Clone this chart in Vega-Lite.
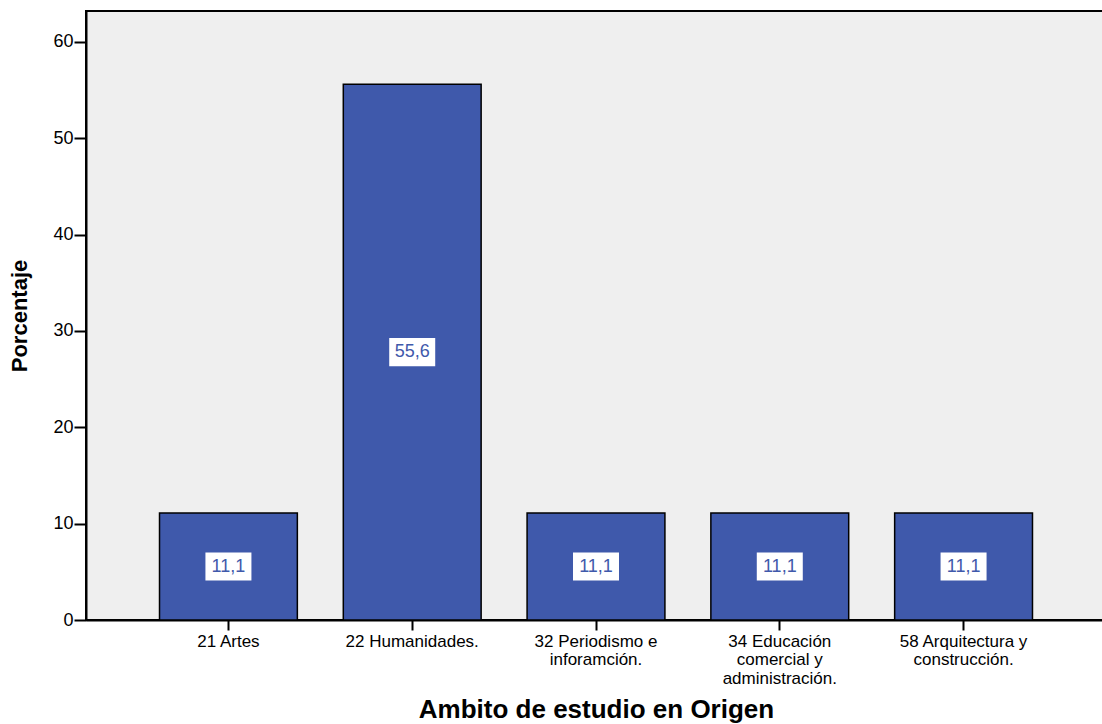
{
  "$schema": "https://vega.github.io/schema/vega-lite/v6.json",
  "width": 1020,
  "height": 609,
  "autosize": {"type": "none"},
  "padding": {"left": 86, "top": 11, "right": 0, "bottom": 104},
  "background": "white",
  "config": {
    "font": "Liberation Sans",
    "view": {"fill": "#efefef", "stroke": "black", "strokeWidth": 2},
    "locale": {"number": {"decimal": ",", "thousands": ".", "grouping": [3], "currency": ["", " €"]}},
    "axis": {"grid": false, "domainColor": "black", "domainWidth": 2, "tickColor": "black", "tickWidth": 2, "labelColor": "black", "titleColor": "black", "labelFont": "Liberation Sans", "titleFont": "Liberation Sans"}
  },
  "data": {
    "values": [
      {"ambito": "21 Artes", "pct": 11.1},
      {"ambito": "22 Humanidades.", "pct": 55.6},
      {"ambito": "32 Periodismo e|inforamción.", "pct": 11.1},
      {"ambito": "34 Educación|comercial y|administración.", "pct": 11.1},
      {"ambito": "58 Arquitectura y|construcción.", "pct": 11.1}
    ]
  },
  "transform": [{"calculate": "datum.pct / 2", "as": "mid"}],
  "encoding": {
    "x": {
      "field": "ambito",
      "type": "nominal",
      "sort": null,
      "scale": {"paddingInner": 0.25, "paddingOuter": 0.4},
      "axis": {
        "title": "Ambito de estudio en Origen",
        "titleFontSize": 26,
        "titleFontWeight": "bold",
        "titlePadding": 10,
        "labelAngle": 0,
        "labelFontSize": 17,
        "labelPadding": 3,
        "labelLineHeight": 18.5,
        "tickSize": 10,
        "labelExpr": "split(datum.label, '|')"
      }
    }
  },
  "layer": [
    {
      "mark": {"type": "bar", "fill": "#3f59ab", "stroke": "black", "strokeWidth": 1.5},
      "encoding": {
        "y": {
          "field": "pct",
          "type": "quantitative",
          "scale": {"domain": [0, 63.2], "nice": false},
          "axis": {
            "title": "Porcentaje",
            "titleFontSize": 22,
            "titleFontWeight": "bold",
            "titlePadding": 21,
            "values": [0, 10, 20, 30, 40, 50, 60],
            "labelFontSize": 18,
            "labelPadding": 1,
            "tickSize": 12
          }
        }
      }
    },
    {
      "mark": {"type": "point", "shape": "M-1,-0.61L1,-0.61L1,0.61L-1,0.61Z", "size": 2116, "filled": true, "fill": "white", "opacity": 1, "strokeWidth": 0},
      "encoding": {"y": {"field": "mid", "type": "quantitative"}}
    },
    {
      "mark": {"type": "text", "color": "#3f59ab", "fontSize": 18, "font": "Liberation Sans"},
      "encoding": {
        "y": {"field": "mid", "type": "quantitative"},
        "text": {"field": "pct", "type": "quantitative", "format": ".1f"}
      }
    }
  ]
}
